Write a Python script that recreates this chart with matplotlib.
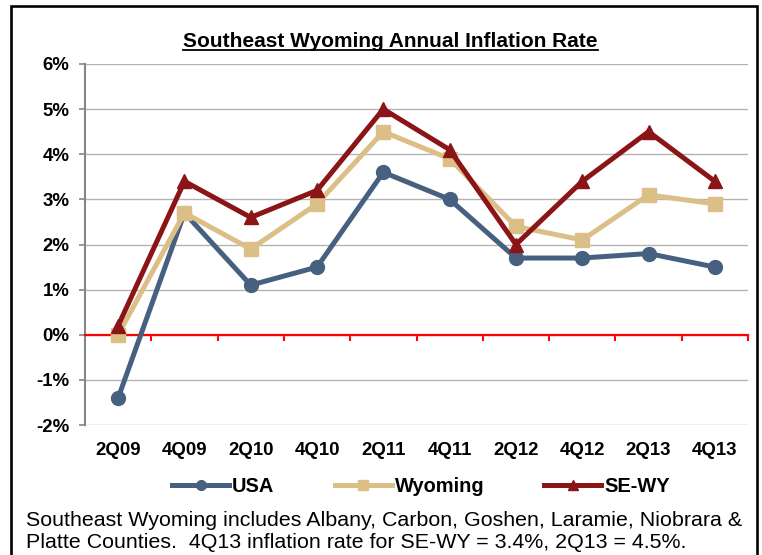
import matplotlib
matplotlib.use("Agg")
import matplotlib.pyplot as plt
from matplotlib.lines import Line2D
from matplotlib.patches import Rectangle
import matplotlib.transforms as mtransforms

quarters = ["2Q09", "4Q09", "2Q10", "4Q10", "2Q11", "4Q11", "2Q12", "4Q12", "2Q13", "4Q13"]
usa = [-1.4, 2.7, 1.1, 1.5, 3.6, 3.0, 1.7, 1.7, 1.8, 1.5]
wyoming = [0.0, 2.7, 1.9, 2.9, 4.5, 3.9, 2.4, 2.1, 3.1, 2.9]
se_wy = [0.2, 3.4, 2.6, 3.2, 5.0, 4.1, 2.0, 3.4, 4.5, 3.4]
yticks = [-2, -1, 0, 1, 2, 3, 4, 5, 6]

plt.rcParams['font.family'] = ["Liberation Sans", "DejaVu Sans"]

fig = plt.figure(figsize=(7.62, 5.55), dpi=100)
# plot area: x 85..748 px, y 64..425 px
ax = fig.add_axes([85 / 762, 1 - 425 / 555, 663 / 762, 361 / 555])

# outer frame round the whole chart
fig.patches.append(Rectangle((11 / 762, -0.01), 746 / 762, 1 - 6 / 555 + 0.01,
                             transform=fig.transFigure, fill=False,
                             edgecolor="black", linewidth=1.9))

x = list(range(len(quarters)))
ax.plot(x, usa, color="#46607f", lw=3.6, marker="o", ms=10, label="USA", zorder=3)
ax.plot(x, wyoming, color="#dcbf87", lw=3.6, marker="s", ms=9.5, label="Wyoming", zorder=4)
ax.plot(x, se_wy, color="#8b1516", lw=3.6, marker="^", ms=10, label="SE-WY", zorder=5)

ax.set_xlim(-0.5, len(quarters) - 0.5)
ax.set_ylim(-2, 6)
ax.set_yticks(yticks)
ax.set_yticklabels([f"{v}%" for v in yticks], fontweight="bold", fontsize=13.4)
ax.yaxis.grid(True, color="#b4b4b4", lw=1)
ax.set_axisbelow(True)
ax.tick_params(axis="y", colors="#868686", length=4.3, width=1.2, pad=6.7, labelcolor="black")

# red zero line with ticks at category boundaries
for s in ["top", "right"]:
    ax.spines[s].set_visible(False)
ax.spines["left"].set_color("#868686")
ax.spines["left"].set_linewidth(1.5)
ax.spines["bottom"].set_position(("data", 0))
ax.spines["bottom"].set_color("#ff0000")
ax.spines["bottom"].set_linewidth(1.6)
ax.spines["bottom"].set_zorder(2.5)
ax.set_xticks([i + 0.5 for i in x])
ax.set_xticklabels([])
ax.tick_params(axis="x", colors="#ff0000", length=4, width=1.5, direction="out")

# category labels sit below the plot, not on the zero line
trans = mtransforms.blended_transform_factory(ax.transData, fig.transFigure)
for i, q in enumerate(quarters):
    ax.text(i, 1 - 455 / 555, q, transform=trans, ha="center", va="baseline",
            fontweight="bold", fontsize=13.4)

title = fig.text(390.5 / 762, 1 - 46.7 / 555, "Southeast Wyoming Annual Inflation Rate",
                 ha="center", va="baseline", fontweight="bold", fontsize=15)

fig.legend(loc="center", bbox_to_anchor=(421 / 762, 1 - 486 / 555), ncol=3, frameon=False,
           handlelength=2.85, columnspacing=3.0, handletextpad=0.15, markerscale=0.7,
           prop={"weight": "bold", "size": 14.4})

fig.text(26 / 762, 1 - 526 / 555,
         "Southeast Wyoming includes Albany, Carbon, Goshen, Laramie, Niobrara &",
         fontsize=15.4, va="baseline")
fig.text(26 / 762, 1 - 547.5 / 555,
         "Platte Counties.  4Q13 inflation rate for SE-WY = 3.4%, 2Q13 = 4.5%.",
         fontsize=15.4, va="baseline")

# underline the title
fig.canvas.draw()
bb = title.get_window_extent().transformed(fig.transFigure.inverted())
uy = 1 - 50.2 / 555
fig.add_artist(Line2D([bb.x0, bb.x1], [uy, uy], transform=fig.transFigure,
                      color="black", lw=1.3))

fig.savefig("out.png", dpi=100)
